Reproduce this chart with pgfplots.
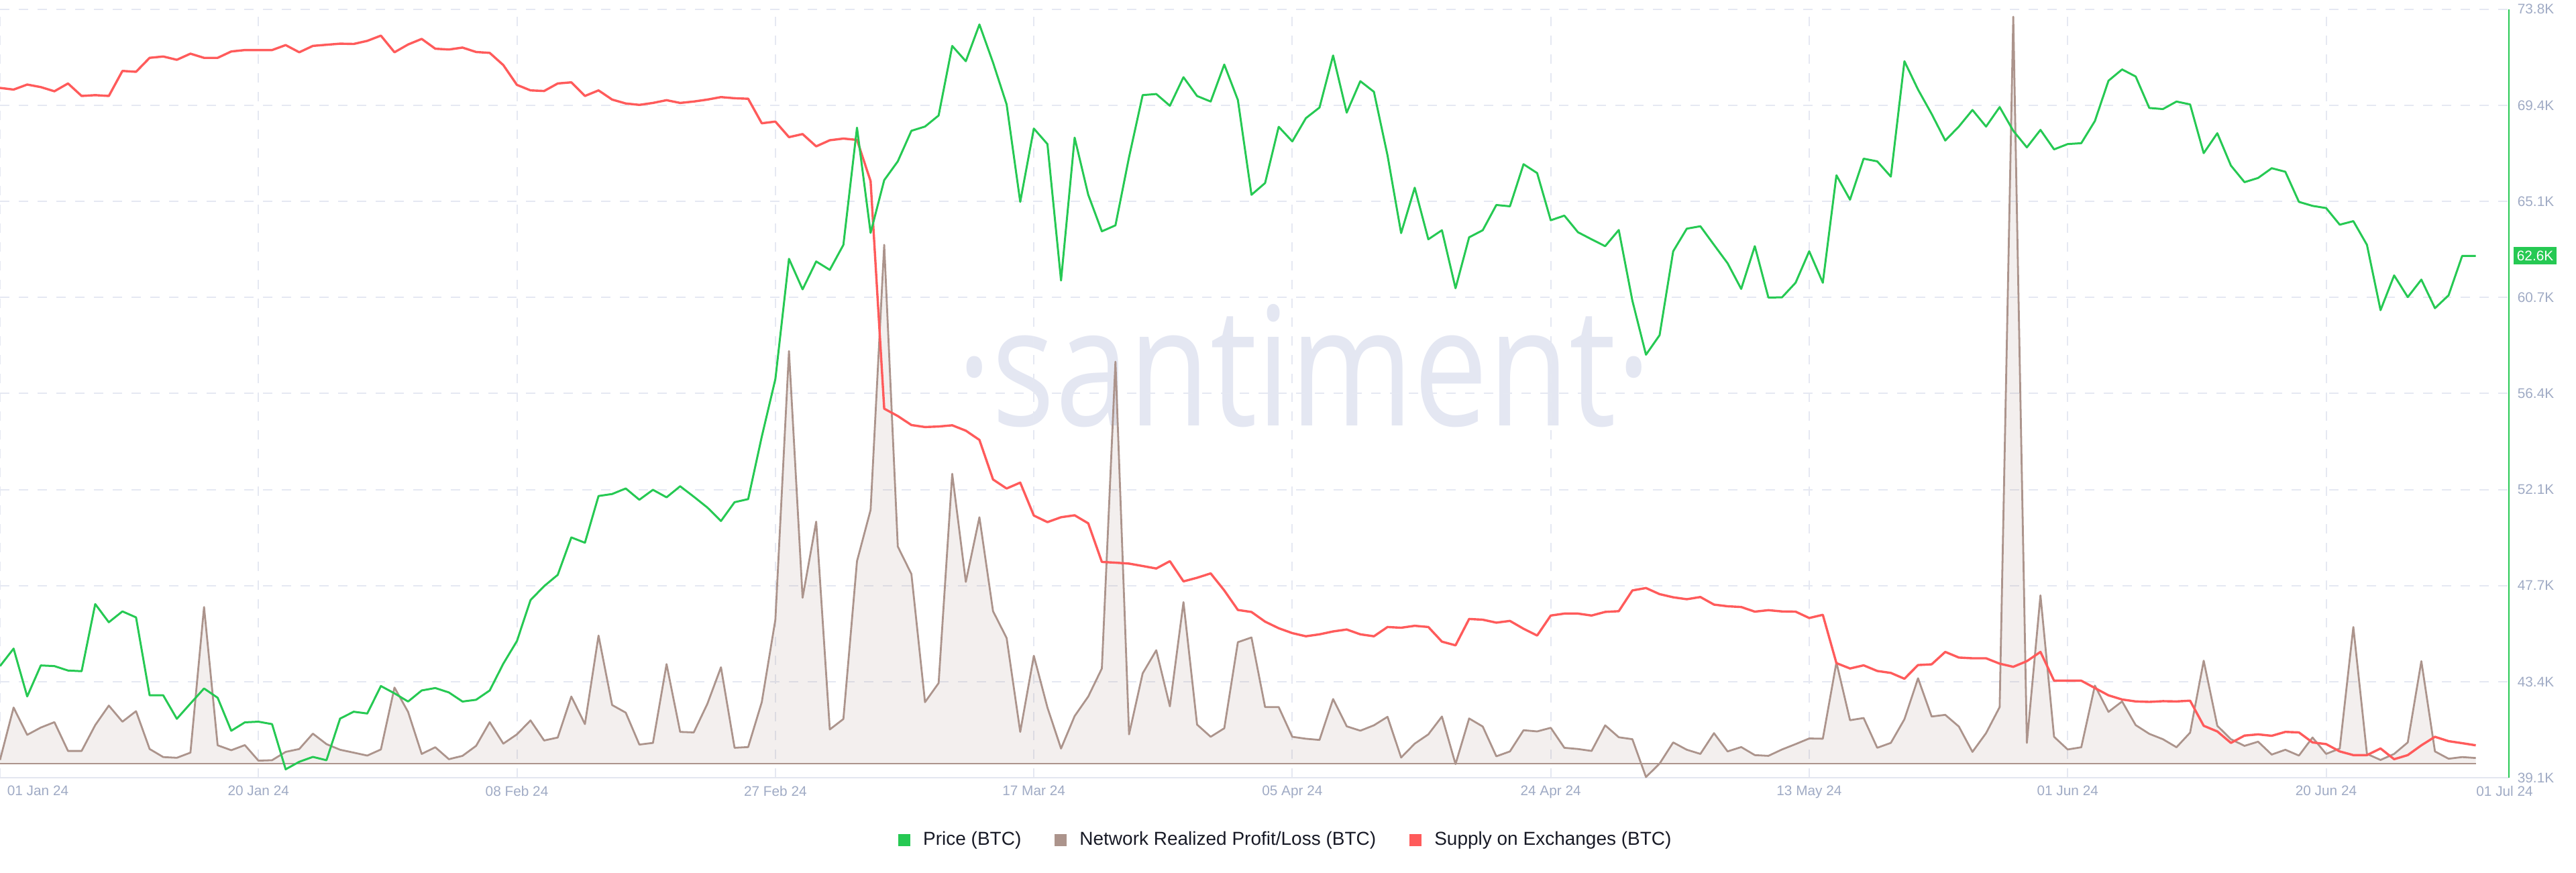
\documentclass[border=0pt]{standalone}
\usepackage{fontspec}
\setmainfont{Liberation Sans}
\newfontfamily\wmfont{Open Sans}
\usepackage{pgfplots}
\usepackage{pgfplotstable}
\pgfplotsset{compat=1.18}
\definecolor{pricegreen}{HTML}{26C953}
\definecolor{supplyred}{HTML}{FF5B5B}
\definecolor{nrplbrown}{HTML}{AC948C}
\definecolor{gridc}{HTML}{E5E8F2}
\definecolor{tickc}{HTML}{9FAAC4}
\definecolor{axisc}{HTML}{E3E6F0}
\definecolor{legc}{HTML}{181A26}
\definecolor{wmc}{HTML}{E4E7F2}

% d = days since 01 Jan 24; price in K USD; nrpl and supply in chart units (hidden scales)
\pgfplotstableread{
d price nrpl supply
0 44.14 0.55 102.80
1 44.93 8.36 102.55
2 42.77 4.29 103.30
3 44.17 5.38 102.92
4 44.14 6.18 102.30
5 43.94 1.89 103.46
6 43.91 1.89 101.60
7 46.94 5.74 101.72
8 46.12 8.65 101.60
9 46.61 6.25 105.33
10 46.34 7.82 105.20
11 42.82 2.18 107.28
12 42.82 0.98 107.48
13 41.76 0.87 106.99
14 42.45 1.64 107.90
15 43.13 23.34 107.28
16 42.71 2.73 107.28
17 41.22 2.00 108.23
18 41.60 2.76 108.44
19 41.63 0.44 108.44
20 41.52 0.51 108.44
21 39.48 1.75 109.18
22 39.82 2.18 108.11
23 40.04 4.47 109.06
24 39.89 2.91 109.23
25 41.77 2.07 109.39
26 42.08 1.64 109.35
27 42.00 1.20 109.81
28 43.24 2.11 110.59
29 42.91 11.34 108.11
30 42.54 7.71 109.27
31 43.04 1.45 110.10
32 43.15 2.44 108.64
33 42.95 0.66 108.52
34 42.54 1.16 108.81
35 42.62 2.65 108.15
36 43.04 6.18 108.02
37 44.25 2.98 106.20
38 45.27 4.36 103.25
39 47.12 6.44 102.43
40 47.75 3.45 102.34
41 48.26 3.89 103.46
42 49.95 10.00 103.63
43 49.71 5.89 101.60
44 51.82 19.09 102.43
45 51.91 8.73 101.06
46 52.16 7.60 100.48
47 51.65 2.84 100.27
48 52.10 3.09 100.56
49 51.76 14.83 100.97
50 52.26 4.73 100.56
51 51.79 4.65 100.77
52 51.30 8.91 101.06
53 50.69 14.36 101.43
54 51.54 2.36 101.26
55 51.68 2.47 101.18
56 54.50 9.16 97.53
57 57.10 21.45 97.78
58 62.53 61.48 95.46
59 61.15 24.72 95.92
60 62.41 36.06 94.09
61 62.03 5.09 95.00
62 63.16 6.65 95.25
63 68.45 30.17 95.05
64 63.70 37.81 88.90
65 66.08 77.32 55.00
66 66.93 32.35 53.90
67 68.31 28.25 52.56
68 68.50 9.16 52.26
69 69.00 12.00 52.34
70 72.14 43.19 52.52
71 71.45 27.08 51.72
72 73.11 36.72 50.34
73 71.39 22.72 44.45
74 69.50 18.72 43.10
75 65.10 4.73 43.98
76 68.41 16.07 39.07
77 67.71 8.36 38.09
78 61.55 2.25 38.82
79 68.00 7.09 39.11
80 65.42 10.00 37.91
81 63.77 14.18 32.16
82 64.04 59.90 32.05
83 67.12 4.36 31.91
84 69.92 13.45 31.55
85 69.97 16.90 31.18
86 69.44 8.54 32.27
87 70.73 24.07 29.26
88 69.88 5.82 29.80
89 69.63 4.00 30.45
90 71.30 5.27 27.91
91 69.70 18.10 25.00
92 65.42 18.80 24.70
93 65.95 8.43 23.26
94 68.49 8.43 22.28
95 67.83 4.00 21.55
96 68.88 3.71 21.08
97 69.36 3.53 21.37
98 71.71 9.63 21.80
99 69.13 5.56 22.09
100 70.55 4.91 21.37
101 70.07 5.71 21.08
102 67.20 6.98 22.46
103 63.69 0.91 22.35
104 65.74 2.98 22.64
105 63.41 4.36 22.46
106 63.82 7.02 20.28
107 61.20 -0.07 19.73
108 63.50 6.73 23.66
109 63.82 5.53 23.55
110 64.96 1.09 23.11
111 64.90 1.82 23.37
112 66.80 4.98 22.20
113 66.40 4.80 21.19
114 64.27 5.34 24.17
115 64.48 2.36 24.46
116 63.73 2.18 24.46
117 63.41 1.89 24.17
118 63.10 5.71 24.71
119 63.83 3.93 24.82
120 60.64 3.64 27.91
121 58.20 -2.00 28.27
122 59.08 0.00 27.36
123 62.87 3.16 26.89
124 63.89 2.07 26.60
125 64.00 1.45 26.93
126 63.16 4.54 25.80
127 62.33 1.82 25.55
128 61.17 2.47 25.44
129 63.10 1.27 24.75
130 60.78 1.16 24.97
131 60.79 2.11 24.78
132 61.45 2.91 24.75
133 62.87 3.75 23.80
134 61.45 3.71 24.28
135 66.30 15.09 17.08
136 65.20 6.47 16.28
137 67.05 6.80 16.75
138 66.93 2.36 15.91
139 66.24 3.09 15.62
140 71.45 6.62 14.75
141 70.17 12.72 16.79
142 69.07 7.02 16.90
143 67.87 7.27 18.75
144 68.50 5.53 17.91
145 69.25 1.75 17.80
146 68.50 4.54 17.80
147 69.38 8.43 17.00
148 68.31 111.31 16.53
149 67.56 3.09 17.37
150 68.35 25.08 18.75
151 67.47 4.00 14.46
152 67.71 2.11 14.46
153 67.75 2.44 14.46
154 68.75 11.63 13.37
155 70.57 7.71 12.28
156 71.08 9.27 11.66
157 70.76 5.74 11.37
158 69.34 4.44 11.30
159 69.29 3.64 11.41
160 69.63 2.44 11.37
161 69.50 4.62 11.48
162 67.30 15.34 7.74
163 68.20 5.64 6.90
164 66.74 3.64 5.19
165 65.99 2.65 6.28
166 66.18 3.27 6.46
167 66.62 1.35 6.25
168 66.46 2.07 6.83
169 65.10 1.20 6.75
170 64.92 3.89 5.26
171 64.82 1.45 5.01
172 64.07 2.25 3.92
173 64.23 20.36 3.37
174 63.16 1.45 3.37
175 60.21 0.55 4.36
176 61.78 1.45 2.76
177 60.80 3.16 3.37
178 61.59 15.27 4.83
179 60.30 1.82 6.10
180 60.88 0.73 5.45
181 62.66 0.98 5.15
182 62.66 0.84 4.83
}\data

\pgfplotsset{base/.style={scale only axis, width=935pt, height=286.325pt,
  xmin=0, xmax=184.44, at={(0,0)}, anchor=south west}}

\begin{document}
\begin{tikzpicture}
\path[use as bounding box] (0,-35.25pt) rectangle (960pt,289.75pt);
\node[anchor=base, text=wmc, inner sep=0pt, font=\wmfont\fontsize{61.7}{62}\selectfont]
  at (486pt,131.25pt) {\scalebox{0.8}[1]{·santiment·}};

\begin{axis}[base, ymin=39.1, ymax=73.8,
  axis line style={draw=none},
  major tick length=0pt, tick style={draw=none},
  grid=major,
  major grid style={draw=gridc, line width=0.5pt, dash pattern=on 3.5pt off 3.5pt},
  xtick={0,19,38,57,76,95,114,133,152,171},
  xticklabels={{},20 Jan 24,08 Feb 24,27 Feb 24,17 Mar 24,05 Apr 24,24 Apr 24,13 May 24,01 Jun 24,20 Jun 24},
  extra x ticks={0,182},
  extra x tick labels={{\hspace{2.5pt}01 Jan 24},{01 Jul 24}},
  extra x tick style={grid=none, xticklabel style={anchor=north west}},
  xticklabel style={anchor=north, inner sep=0pt, yshift=-2.9pt, font=\fontsize{5.2}{6}\selectfont, text=tickc},
  ytick={39.1,43.4375,47.775,52.1125,56.45,60.7875,65.125,69.4625,73.8},
  yticklabels={39.1K,43.4K,47.7K,52.1K,56.4K,60.7K,65.1K,69.4K,73.8K},
  yticklabel pos=right,
  yticklabel style={anchor=west, inner sep=0pt, xshift=3pt, font=\fontsize{5.2}{6}\selectfont, text=tickc},
  legend columns=3,
  legend cell align=left,
  legend image code/.code={\fill[#1] (0pt,-2.25pt) rectangle (4.5pt,2.25pt);},
  legend style={at={(0.5132,-0.0812)}, anchor=center, draw=none, fill=none,
    inner sep=0pt, font=\fontsize{7}{8.5}\selectfont, text=legc,
    /tikz/every odd column/.append style={column sep=2.75pt},
    /tikz/every even column/.append style={column sep=10.5pt}},
]
\addlegendimage{fill=pricegreen, draw=none}
\addlegendentry{Price (BTC)}
\addlegendimage{fill=nrplbrown, draw=none}
\addlegendentry{Network Realized Profit/Loss (BTC)}
\addlegendimage{fill=supplyred, draw=none}
\addlegendentry{Supply on Exchanges (BTC)}
\draw[axisc, line width=0.5pt] (rel axis cs:0,0) -- (rel axis cs:1,0);
\end{axis}

\begin{axis}[base, hide axis, ymin=-2.1, ymax=112.43]
\addplot[draw=none, fill=nrplbrown, fill opacity=0.15] table[x=d, y=nrpl] {\data} \closedcycle;
\addplot[nrplbrown, line width=0.7pt, line join=round] table[x=d, y=nrpl] {\data};
\addplot[nrplbrown, line width=0.35pt] coordinates {(0,0) (182,0)};
\end{axis}

\begin{axis}[base, hide axis, ymin=0, ymax=114.53]
\addplot[supplyred, line width=0.85pt, line join=round] table[x=d, y=supply] {\data};
\end{axis}

\begin{axis}[base, hide axis, ymin=39.1, ymax=73.8, clip=false]
\addplot[pricegreen, line width=0.75pt, line join=round] table[x=d, y=price] {\data};
\draw[pricegreen, line width=0.5pt] (rel axis cs:1,0) -- (rel axis cs:1,1);
\node[fill=pricegreen, text=white, anchor=west, xshift=1.5pt, inner xsep=1.25pt, inner ysep=1.4pt,
  text height=3.75pt, text depth=0pt, font=\fontsize{5.2}{6}\selectfont]
  at (axis cs:184.44,62.68) {62.6K};
\end{axis}
\end{tikzpicture}
\end{document}
